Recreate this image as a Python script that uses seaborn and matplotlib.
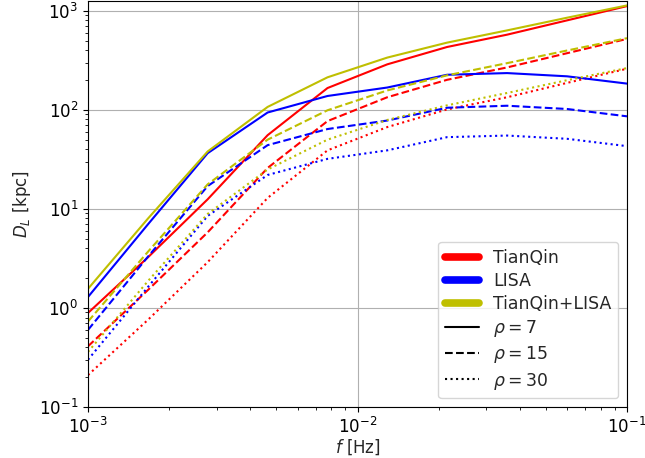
import matplotlib
matplotlib.use("Agg")
import matplotlib.pyplot as plt
from matplotlib.lines import Line2D
import seaborn as sns
import pandas as pd

# frequency grid (Hz)
freq = [0.001, 0.00167, 0.00278, 0.00464, 0.00774, 0.0129, 0.0215, 0.0359, 0.0599, 0.1]

# luminosity distance D_L (kpc)
tq_7 = [0.89, 3.25, 12.5, 55.5, 166, 288, 431, 574, 800, 1115]
lisa_7 = [1.29, 7.0, 36.5, 94, 138, 168, 226, 235, 218, 184]
both_7 = [1.56, 8.0, 38, 107, 213, 337, 477, 634, 851, 1133]

tq_15 = [0.41, 1.52, 5.8, 25.9, 77, 134, 201, 268, 373, 520]
lisa_15 = [0.60, 3.3, 17.0, 44, 64, 78, 105, 110, 102, 86]
both_15 = [0.73, 3.7, 17.7, 50, 99, 157, 223, 296, 397, 529]

tq_30 = [0.21, 0.76, 2.9, 12.9, 39, 67, 101, 134, 187, 260]
lisa_30 = [0.30, 1.63, 8.5, 22, 32, 39, 53, 55, 51, 43]
both_30 = [0.36, 1.87, 8.9, 25, 50, 79, 111, 148, 199, 264]

detectors = ["TianQin", "LISA", "TianQin+LISA"]
rhos = [7, 15, 30]
series = {
    ("TianQin", 7): tq_7, ("LISA", 7): lisa_7, ("TianQin+LISA", 7): both_7,
    ("TianQin", 15): tq_15, ("LISA", 15): lisa_15, ("TianQin+LISA", 15): both_15,
    ("TianQin", 30): tq_30, ("LISA", 30): lisa_30, ("TianQin+LISA", 30): both_30,
}

rows = []
for (det, rho), vals in series.items():
    for f, d in zip(freq, vals):
        rows.append({"f": f, "DL": d, "det": det, "rho": rho})
df = pd.DataFrame(rows)

sns.set_style("ticks")
plt.rcParams["font.family"] = ["DejaVu Sans"]
plt.rcParams["mathtext.fontset"] = "dejavusans"

palette = {"TianQin": "red", "LISA": "blue", "TianQin+LISA": (0.75, 0.75, 0.0)}
dashes = {7: "", 15: (3.7, 1.6), 30: (1, 1.65)}

fig = plt.figure(figsize=(6.45, 4.58), dpi=100)
ax = fig.add_axes([88 / 645, 1 - 407 / 458, (627 - 88) / 645, (407 - 0.5) / 458])

sns.lineplot(data=df, x="f", y="DL", hue="det", style="rho", palette=palette,
             dashes=dashes, hue_order=detectors, style_order=rhos,
             estimator=None, sort=False, linewidth=1.5, legend=False, ax=ax)

ax.set_xscale("log")
ax.set_yscale("log")
ax.set_xlim(1e-3, 1e-1)
ax.set_ylim(0.1, 1270)
ax.grid(True, which="major", color="#b0b0b0", linewidth=0.8)
for s in ax.spines.values():
    s.set_color("black")
    s.set_linewidth(0.8)
ax.tick_params(which="both", direction="out", colors="black", labelsize=12)
ax.tick_params(which="major", length=3.5, width=0.8)
ax.tick_params(which="minor", length=2, width=0.6)
ax.set_xlabel("$f$ [Hz]", fontsize=12, labelpad=0.5)
ax.set_ylabel("$D_L$ [kpc]", fontsize=12)

handles = [Line2D([], [], color=palette[d], lw=5.5) for d in detectors]
handles += [Line2D([], [], color="black", lw=1.5, linestyle=ls) for ls in ["-", "--", ":"]]
labels = detectors + [r"$\rho=7$", r"$\rho=15$", r"$\rho=30$"]
ax.legend(handles, labels, loc="lower right", fontsize=12.4, frameon=True,
          fancybox=True, framealpha=0.8, edgecolor="#cccccc", labelspacing=0.3)

fig.savefig("out.png", dpi=100)
